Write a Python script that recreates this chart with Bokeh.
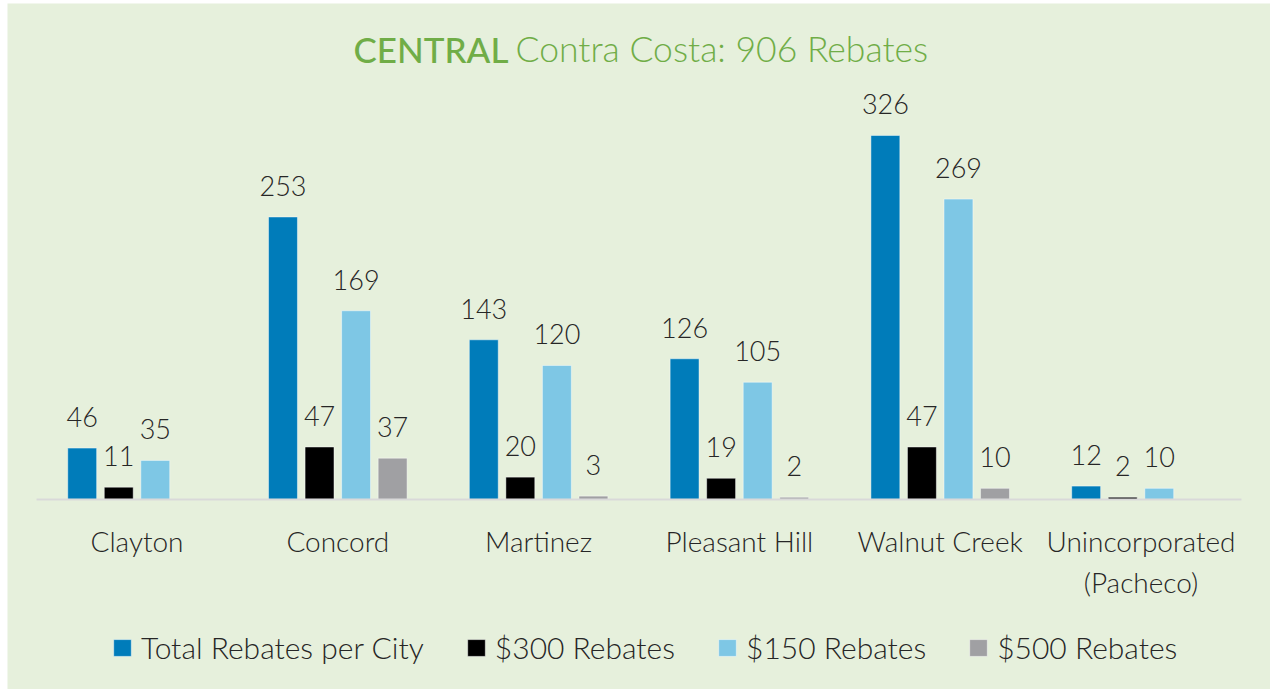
from bokeh.plotting import figure
from bokeh.models import ColumnDataSource, FactorRange, Range1d, Legend, LegendItem, Label
from bokeh.transform import dodge
from bokeh.core.properties import value
from bokeh.embed import file_html
from bokeh.resources import INLINE

# ---- data ----
cities = ["Clayton", "Concord", "Martinez", "Pleasant Hill", "Walnut Creek", "Unincorporated\n(Pacheco)"]
total_rebates = [46, 253, 143, 126, 326, 12]
rebates_300 = [11, 47, 20, 19, 47, 2]
rebates_150 = [35, 169, 120, 105, 269, 10]
rebates_500 = [None, 37, 3, 2, 10, None]
series_names = ["Total Rebates per City", "$300 Rebates", "$150 Rebates", "$500 Rebates"]
title_bold = "CENTRAL"
title_rest = "Contra Costa: 906 Rebates"

# ---- styles ----
BG = "#E6F0DC"
colors = ["#007CBA", "#000000", "#7EC7E5", "#A0A0A3"]
TEXT = "#262626"
GREEN = "#70AD47"
FONT = "Lato Light"

p = figure(
    x_range=FactorRange(*cities, range_padding=0.145, range_padding_units="absolute"),
    y_range=Range1d(-170.2, 444.2),
    width=1270, height=689,
    output_backend="svg", toolbar_location=None,
    y_axis_location=None,
    min_border_left=7, min_border_right=0, min_border_top=3, min_border_bottom=0,
)
p.background_fill_color = BG
p.border_fill_color = "white"
p.outline_line_color = None
p.xgrid.grid_line_color = None
p.ygrid.grid_line_color = None

ax = p.xaxis[0]
ax.fixed_location = 0
ax.bounds = (0, 6)
ax.axis_line_color = "#D9D9D9"
ax.axis_line_width = 2
ax.major_tick_line_color = None
ax.minor_tick_line_color = None
ax.major_label_text_font = FONT
ax.major_label_text_font_size = "28px"
ax.major_label_text_color = TEXT
ax.major_label_standoff = 19

all_series = [total_rebates, rebates_300, rebates_150, rebates_500]
pitch = 0.182
bar_w = 0.144
offsets = [(i - 1.5) * pitch for i in range(4)]

items = []
for vals, name, col, off in zip(all_series, series_names, colors, offsets):
    xs = [c for c, v in zip(cities, vals) if v is not None]
    ys = [v for v in vals if v is not None]
    src = ColumnDataSource(dict(x=xs, top=ys, label=[str(v) for v in ys]))
    r = p.vbar(x=dodge("x", off, range=p.x_range), top="top", width=bar_w, bottom=0,
               source=src, fill_color=col, line_color="#FFFFFF", line_alpha=0.45, line_width=1)
    p.text(x=dodge("x", off, range=p.x_range), y="top", text="label", source=src,
           text_align="center", text_baseline="alphabetic", y_offset=-31,
           text_font=value(FONT), text_font_size="27px", text_color=TEXT)
    items.append(LegendItem(label=name, renderers=[r]))

legend = Legend(items=items, orientation="horizontal", location=(104, 24),
                glyph_width=22, glyph_height=21, label_standoff=8, spacing=41,
                label_text_font=FONT, label_text_font_size="30px", label_text_color=TEXT,
                background_fill_alpha=0, border_line_color=None, margin=0, padding=4)
p.add_layout(legend)

p.add_layout(Label(x=2.350, y=403.5, text=title_bold, text_align="right", text_baseline="alphabetic",
                   text_font="Lato Medium, Lato", text_font_size="35px", text_color=GREEN))
p.add_layout(Label(x=2.385, y=403.5, text=title_rest, text_align="left", text_baseline="alphabetic",
                   text_font=FONT, text_font_size="35.5px", text_color=GREEN))

open("out.html", "w").write(file_html(p, INLINE))
